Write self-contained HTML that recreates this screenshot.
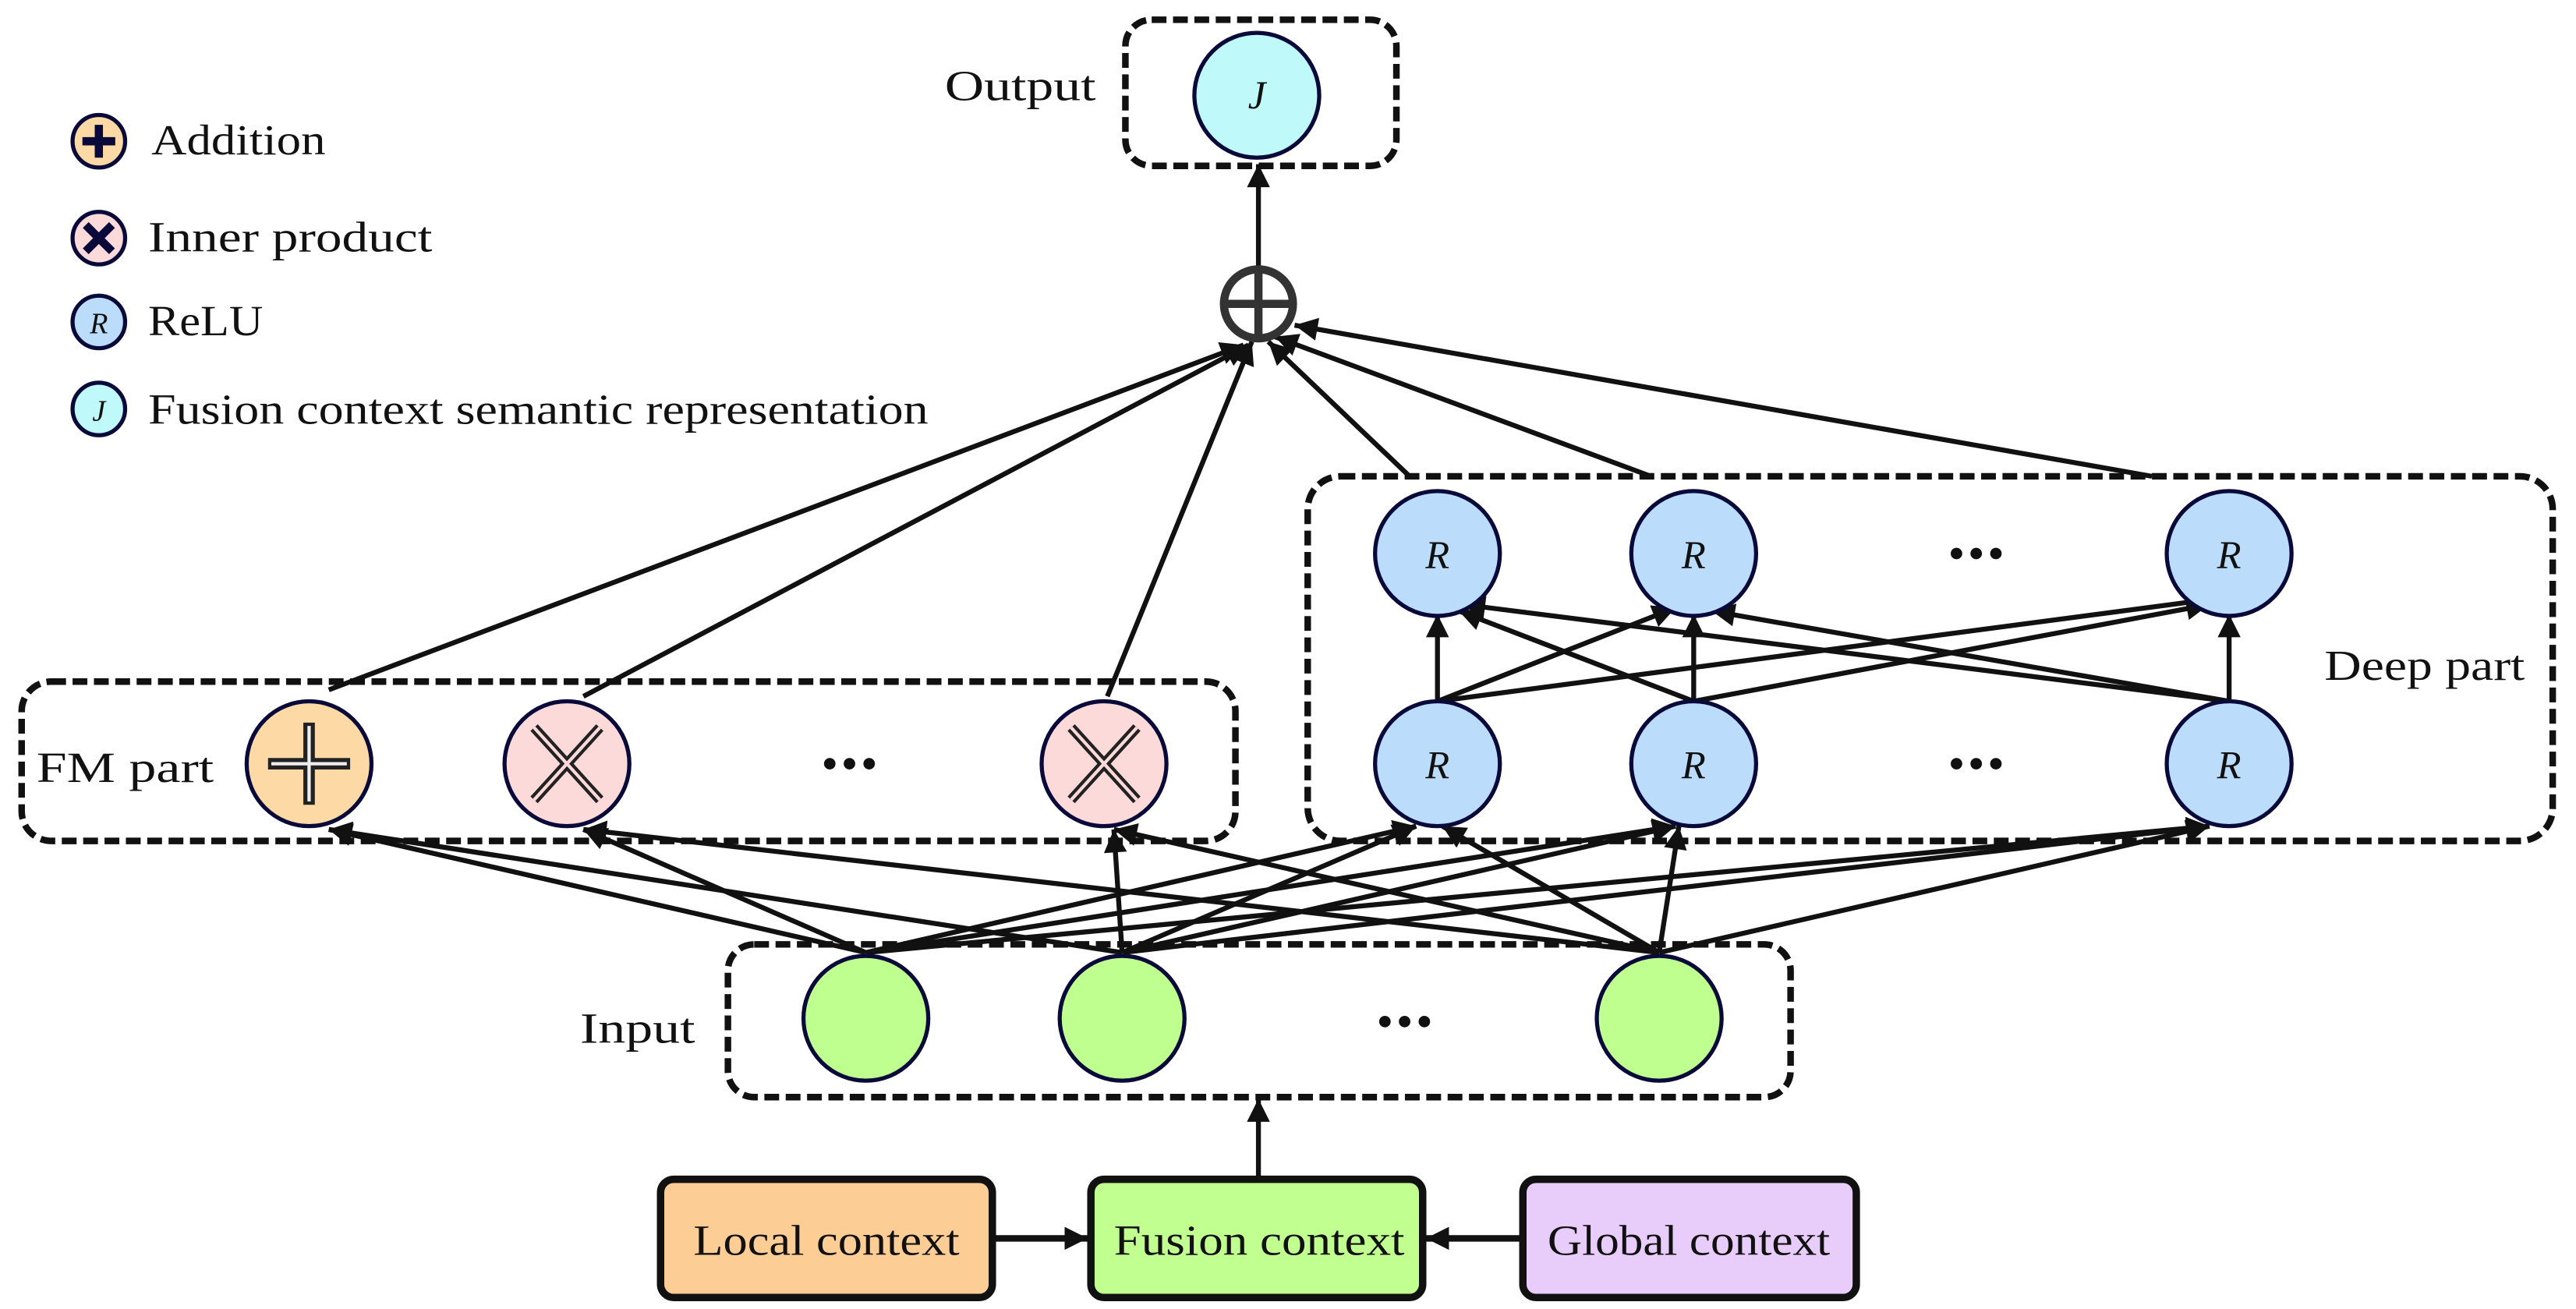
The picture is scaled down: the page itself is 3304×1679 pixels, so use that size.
<!DOCTYPE html>
<html><head><meta charset="utf-8"><style>
html,body{margin:0;padding:0;background:#fff;}
svg{display:block;}
text{font-family:"Liberation Serif",serif;fill:#111;}
</style></head><body>
<svg width="3304" height="1679" viewBox="0 0 1568 797" xmlns="http://www.w3.org/2000/svg">
<defs>
<marker id="b" viewBox="0 0 10 10" refX="10" refY="5" markerWidth="16" markerHeight="14" markerUnits="userSpaceOnUse" orient="auto"><path d="M0,0 L10,5 L0,10 z" fill="#111"/></marker>
</defs>
<rect width="1568" height="797" fill="#fff"/>
<g fill="none" stroke="#111" stroke-width="4" stroke-dasharray="9,4">
<rect x="685" y="12" width="165" height="89" rx="16"/>
<rect x="13" y="415" width="739" height="97" rx="18"/>
<rect x="796" y="290" width="758" height="222" rx="20"/>
<rect x="443" y="575" width="647" height="93" rx="16"/>
</g>
<g stroke="#111" stroke-width="3" fill="none" marker-end="url(#b)">
<line x1="200" y1="420" x2="757" y2="210"/>
<line x1="355" y1="424" x2="760" y2="210"/>
<line x1="674" y1="424" x2="762" y2="208"/>
<line x1="858" y1="290" x2="772" y2="208"/>
<line x1="1005" y1="290" x2="776" y2="205"/>
<line x1="1310" y1="290" x2="788" y2="198"/>
<line x1="766" y1="163" x2="766" y2="100"/>
<line x1="766" y1="718" x2="766" y2="669"/>
<line x1="875" y1="427" x2="875" y2="374"/>
<line x1="1031" y1="427" x2="1031" y2="374"/>
<line x1="1357" y1="427" x2="1357" y2="374"/>
<line x1="875" y1="427" x2="1020" y2="370"/>
<line x1="875" y1="427" x2="1345" y2="365"/>
<line x1="1031" y1="427" x2="888" y2="372"/>
<line x1="1031" y1="427" x2="1345" y2="368"/>
<line x1="1357" y1="427" x2="890" y2="368"/>
<line x1="1357" y1="427" x2="1042" y2="372"/>
</g>
<g stroke="#111" stroke-width="3" fill="none" marker-end="url(#b)">
<line x1="527" y1="580" x2="200" y2="505"/>
<line x1="527" y1="580" x2="355" y2="505"/>
<line x1="527" y1="580" x2="862" y2="503"/>
<line x1="527" y1="580" x2="1020" y2="503"/>
<line x1="527" y1="580" x2="1345" y2="503"/>
<line x1="683" y1="580" x2="200" y2="505"/>
<line x1="683" y1="580" x2="678" y2="505"/>
<line x1="683" y1="580" x2="862" y2="503"/>
<line x1="683" y1="580" x2="1020" y2="503"/>
<line x1="683" y1="580" x2="1345" y2="503"/>
<line x1="1010" y1="580" x2="355" y2="505"/>
<line x1="1010" y1="580" x2="678" y2="505"/>
<line x1="1010" y1="580" x2="878" y2="503"/>
<line x1="1010" y1="580" x2="1022" y2="503"/>
<line x1="1010" y1="580" x2="1345" y2="503"/>
</g>
<g stroke="#0a0a3a" stroke-width="2.5">
<circle cx="765" cy="58" r="38" fill="#bff9f9"/>
<circle cx="188" cy="465" r="38" fill="#fdd9a6"/>
<circle cx="345" cy="465" r="38" fill="#fddada"/>
<circle cx="672" cy="465" r="38" fill="#fddada"/>
<circle cx="875" cy="337" r="38" fill="#bcdcfc"/>
<circle cx="1031" cy="337" r="38" fill="#bcdcfc"/>
<circle cx="1357" cy="337" r="38" fill="#bcdcfc"/>
<circle cx="875" cy="465" r="38" fill="#bcdcfc"/>
<circle cx="1031" cy="465" r="38" fill="#bcdcfc"/>
<circle cx="1357" cy="465" r="38" fill="#bcdcfc"/>
<circle cx="527" cy="620" r="38" fill="#bfff8f"/>
<circle cx="683" cy="620" r="38" fill="#bfff8f"/>
<circle cx="1010" cy="620" r="38" fill="#bfff8f"/>
</g>
<g stroke="#222" stroke-width="7">
<line x1="188" y1="440" x2="188" y2="490"/><line x1="163" y1="465" x2="213" y2="465"/>
</g>
<g stroke="#eee" stroke-width="2">
<line x1="188" y1="442" x2="188" y2="488"/><line x1="165" y1="465" x2="211" y2="465"/>
</g>
<g stroke="#222" stroke-width="6">
<line x1="325" y1="443" x2="365" y2="487"/><line x1="365" y1="443" x2="325" y2="487"/>
<line x1="652" y1="443" x2="692" y2="487"/><line x1="692" y1="443" x2="652" y2="487"/>
</g>
<g stroke="#fddada" stroke-width="2">
<line x1="325" y1="443" x2="365" y2="487"/><line x1="365" y1="443" x2="325" y2="487"/>
<line x1="652" y1="443" x2="692" y2="487"/><line x1="692" y1="443" x2="652" y2="487"/>
</g>
<circle cx="766" cy="185" r="21" fill="#fff" stroke="#333" stroke-width="5"/>
<line x1="766" y1="164" x2="766" y2="206" stroke="#333" stroke-width="5"/>
<line x1="745" y1="185" x2="787" y2="185" stroke="#333" stroke-width="5"/>
<g font-style="italic" font-size="24" text-anchor="middle">
<text x="765" y="66">J</text>
<text x="875" y="346">R</text><text x="1031" y="346">R</text><text x="1357" y="346">R</text>
<text x="875" y="474">R</text><text x="1031" y="474">R</text><text x="1357" y="474">R</text>
</g>
<g fill="#111">
<circle cx="505" cy="465" r="3.5"/><circle cx="517" cy="465" r="3.5"/><circle cx="529" cy="465" r="3.5"/>
<circle cx="1191" cy="337" r="3.5"/><circle cx="1203" cy="337" r="3.5"/><circle cx="1215" cy="337" r="3.5"/>
<circle cx="1191" cy="465" r="3.5"/><circle cx="1203" cy="465" r="3.5"/><circle cx="1215" cy="465" r="3.5"/>
<circle cx="843" cy="622" r="3.5"/><circle cx="855" cy="622" r="3.5"/><circle cx="867" cy="622" r="3.5"/>
</g>
<g font-size="26">
<text x="575" y="61" textLength="92" lengthAdjust="spacingAndGlyphs">Output</text>
<text x="22" y="476" textLength="108" lengthAdjust="spacingAndGlyphs">FM part</text>
<text x="1415" y="414" textLength="122" lengthAdjust="spacingAndGlyphs">Deep part</text>
<text x="353" y="635" textLength="70" lengthAdjust="spacingAndGlyphs">Input</text>
</g>
<g stroke="#0a0a3a" stroke-width="2.5">
<circle cx="60" cy="86" r="16" fill="#fdd9a6"/>
<circle cx="60" cy="145" r="16" fill="#fddada"/>
<circle cx="60" cy="196" r="16" fill="#bcdcfc"/>
<circle cx="60" cy="249" r="16" fill="#bff9f9"/>
</g>
<g stroke="#0a0a3a" stroke-width="5">
<line x1="60" y1="76" x2="60" y2="96"/><line x1="50" y1="86" x2="70" y2="86"/>
<line x1="52" y1="137" x2="68" y2="153"/><line x1="68" y1="137" x2="52" y2="153"/>
</g>
<g font-style="italic" font-size="18" text-anchor="middle">
<text x="60" y="203">R</text><text x="60" y="256">J</text>
</g>
<g font-size="26">
<text x="92" y="94" textLength="106" lengthAdjust="spacingAndGlyphs">Addition</text>
<text x="90" y="153" textLength="173" lengthAdjust="spacingAndGlyphs">Inner product</text>
<text x="90" y="204" textLength="70" lengthAdjust="spacingAndGlyphs">ReLU</text>
<text x="90" y="258" textLength="475" lengthAdjust="spacingAndGlyphs">Fusion context semantic representation</text>
</g>
<g stroke="#111" stroke-width="4.5">
<rect x="402" y="718" width="202" height="72" rx="8" fill="#fdcd96"/>
<rect x="664" y="718" width="202" height="72" rx="8" fill="#c0ff90"/>
<rect x="927" y="718" width="203" height="72" rx="8" fill="#e8cdfb"/>
</g>
<g stroke="#111" stroke-width="4" marker-end="url(#b)">
<line x1="606" y1="754" x2="662" y2="754"/>
<line x1="925" y1="754" x2="868" y2="754"/>
</g>
<g font-size="26">
<text x="422" y="764" textLength="162" lengthAdjust="spacingAndGlyphs">Local context</text>
<text x="678" y="764" textLength="177" lengthAdjust="spacingAndGlyphs">Fusion context</text>
<text x="942" y="764" textLength="172" lengthAdjust="spacingAndGlyphs">Global context</text>
</g>
</svg>
</body></html>
